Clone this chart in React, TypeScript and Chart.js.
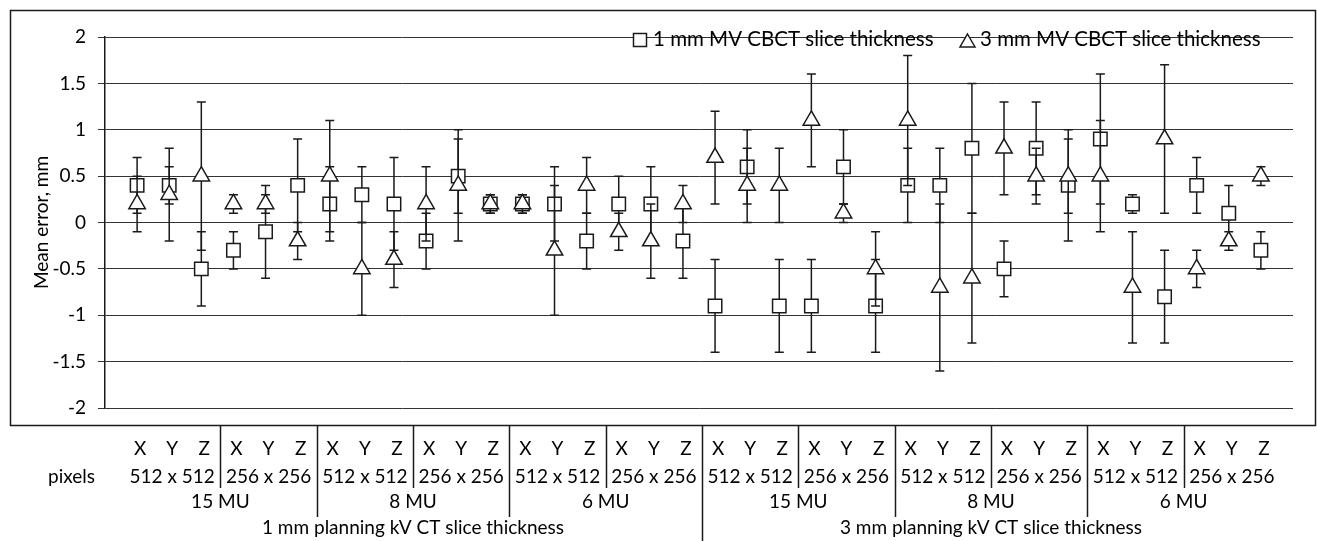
import React, { useEffect, useRef } from 'react';
import { Chart, registerables } from 'chart.js';

Chart.register(...registerables);

// ---- Category hierarchy (innermost first) ----
const AXES = ['X', 'Y', 'Z'];
const PIXEL_GROUPS = ['512 x 512', '256 x 256'];
const MU_GROUPS = ['15 MU', '8 MU', '6 MU'];
const PLANNING_GROUPS = ['1 mm planning kV CT slice thickness', '3 mm planning kV CT slice thickness'];
const PIXEL_ROW_TITLE = 'pixels';

// ---- Series ----
const SERIES_NAMES = ['1 mm MV CBCT slice thickness', '3 mm MV CBCT slice thickness'];
const Y_TITLE = 'Mean error, mm';

// 1 mm MV CBCT (squares): mean and +/- error
const mv1Mean = [
  0.4, 0.4, -0.5, -0.3, -0.1, 0.4,
  0.2, 0.3, 0.2, -0.2, 0.5, 0.2,
  0.2, 0.2, -0.2, 0.2, 0.2, -0.2,
  -0.9, 0.6, -0.9, -0.9, 0.6, -0.9,
  0.4, 0.4, 0.8, -0.5, 0.8, 0.4,
  0.9, 0.2, -0.8, 0.4, 0.1, -0.3,
];
const mv1Err = [
  0.3, 0.2, 0.4, 0.2, 0.5, 0.5,
  0.4, 0.3, 0.5, 0.3, 0.4, 0.1,
  0.1, 0.4, 0.3, 0.3, 0.4, 0.4,
  0.5, 0.4, 0.5, 0.5, 0.4, 0.5,
  0.4, 0.4, 0.7, 0.3, 0.5, 0.6,
  0.7, 0.1, 0.5, 0.3, 0.3, 0.2,
];
// 3 mm MV CBCT (triangles): mean and +/- error
const mv3Mean = [
  0.2, 0.3, 0.5, 0.2, 0.2, -0.2,
  0.5, -0.5, -0.4, 0.2, 0.4, 0.2,
  0.2, -0.3, 0.4, -0.1, -0.2, 0.2,
  0.7, 0.4, 0.4, 1.1, 0.1, -0.5,
  1.1, -0.7, -0.6, 0.8, 0.5, 0.5,
  0.5, -0.7, 0.9, -0.5, -0.2, 0.5,
];
const mv3Err = [
  0.3, 0.5, 0.8, 0.1, 0.1, 0.2,
  0.6, 0.5, 0.3, 0.4, 0.6, 0.1,
  0.1, 0.7, 0.3, 0.2, 0.4, 0.2,
  0.5, 0.4, 0.4, 0.5, 0.1, 0.4,
  0.7, 0.9, 0.7, 0.5, 0.3, 0.4,
  0.6, 0.6, 0.8, 0.2, 0.1, 0.1,
];

const Y_MIN = -2;
const Y_MAX = 2;
const Y_STEP = 0.5;

// Build flat category list from the hierarchy
type Cat = { axis: string; pixel: number; mu: number; plan: number };
const categories: Cat[] = [];
PLANNING_GROUPS.forEach((_, p) => {
  MU_GROUPS.forEach((_, m) => {
    PIXEL_GROUPS.forEach((_, px) => {
      AXES.forEach((a) => categories.push({ axis: a, pixel: px, mu: m, plan: p }));
    });
  });
});

const FONT = 'Lato, "Open Sans", sans-serif';
const INK = '#1a1a1a';

const errorBarPlugin = {
  id: 'errorBars',
  beforeDatasetDraw(chart: any, args: any) {
    const ds = chart.data.datasets[args.index];
    const errs: number[] = ds.errors;
    if (!errs) return;
    const meta = chart.getDatasetMeta(args.index);
    const ys = chart.scales.y;
    const ctx = chart.ctx;
    ctx.save();
    ctx.strokeStyle = INK;
    ctx.lineWidth = 1.5;
    meta.data.forEach((pt: any, i: number) => {
      const v = ds.data[i].y;
      const e = errs[i];
      const x = pt.x;
      const yt = ys.getPixelForValue(v + e);
      const yb = ys.getPixelForValue(v - e);
      ctx.beginPath();
      ctx.moveTo(x, yt);
      ctx.lineTo(x, yb);
      ctx.moveTo(x - 4.5, yt);
      ctx.lineTo(x + 4.5, yt);
      ctx.moveTo(x - 4.5, yb);
      ctx.lineTo(x + 4.5, yb);
      ctx.stroke();
    });
    ctx.restore();
  },
};

const decorPlugin = {
  id: 'decor',
  afterDraw(chart: any) {
    const ctx = chart.ctx;
    const xs = chart.scales.x;
    const area = chart.chartArea;
    ctx.save();
    // outer border
    ctx.strokeStyle = INK;
    ctx.lineWidth = 1.5;
    ctx.strokeRect(10.5, 10.5, 1305, 415);

    // y title
    ctx.fillStyle = '#000';
    ctx.font = `19px ${FONT}`;
    ctx.textAlign = 'center';
    ctx.textBaseline = 'middle';
    ctx.save();
    ctx.translate(42, (area.top + area.bottom) / 2);
    ctx.rotate(-Math.PI / 2);
    ctx.fillText(Y_TITLE, 0, 0);
    ctx.restore();

    // legend
    ctx.lineWidth = 1.5;
    ctx.strokeStyle = INK;
    ctx.fillStyle = '#fff';
    ctx.fillRect(633.5, 33.5, 13, 13);
    ctx.strokeRect(633.5, 33.5, 13, 13);
    ctx.beginPath();
    ctx.moveTo(967.5, 34);
    ctx.lineTo(975, 47);
    ctx.lineTo(960, 47);
    ctx.closePath();
    ctx.fill();
    ctx.stroke();
    ctx.fillStyle = '#000';
    ctx.font = `20.5px ${FONT}`;
    ctx.textAlign = 'left';
    ctx.textBaseline = 'middle';
    ctx.fillText(SERIES_NAMES[0], 653, 39);
    ctx.fillText(SERIES_NAMES[1], 980, 39);

    // category labels
    const dx = 3;
    const px = (i: number) => xs.getPixelForValue(i) + dx;
    const n = categories.length;
    ctx.font = `19px ${FONT}`;
    ctx.textAlign = 'center';
    categories.forEach((c, i) => ctx.fillText(c.axis, px(i), 449));
    const groupCenter = (start: number, len: number) => (px(start) + px(start + len - 1)) / 2;
    const perPixel = AXES.length;
    const perMu = perPixel * PIXEL_GROUPS.length;
    const perPlan = perMu * MU_GROUPS.length;
    for (let s = 0; s < n; s += perPixel) {
      ctx.fillText(PIXEL_GROUPS[categories[s].pixel], groupCenter(s, perPixel), 477);
    }
    for (let s = 0; s < n; s += perMu) {
      ctx.fillText(MU_GROUPS[categories[s].mu], groupCenter(s, perMu), 502);
    }
    for (let s = 0; s < n; s += perPlan) {
      ctx.fillText(PLANNING_GROUPS[categories[s].plan], groupCenter(s, perPlan), 528);
    }
    ctx.textAlign = 'right';
    ctx.fillText(PIXEL_ROW_TITLE, 95, 477);

    // separators
    ctx.strokeStyle = INK;
    ctx.lineWidth = 1.5;
    for (let k = 0; k < n - 1; k++) {
      const b = k + 1;
      let bottom = 0;
      if (b % perPlan === 0) bottom = 541;
      else if (b % perMu === 0) bottom = 517;
      else if (b % perPixel === 0) bottom = 488;
      if (!bottom) continue;
      const x = Math.round((px(k) + px(k + 1)) / 2) + 0.5;
      ctx.beginPath();
      ctx.moveTo(x, 426);
      ctx.lineTo(x, bottom);
      ctx.stroke();
    }
    ctx.restore();
  },
};

export default function App() {
  const ref = useRef<HTMLCanvasElement | null>(null);
  useEffect(() => {
    if (!ref.current) return;
    const chart = new Chart(ref.current, {
      type: 'scatter',
      data: {
        datasets: [
          {
            label: SERIES_NAMES[0],
            data: mv1Mean.map((v, i) => ({ x: i, y: v })),
            errors: mv1Err,
            pointStyle: 'rect',
            pointRadius: 9.5,
            pointBorderWidth: 1.5,
            pointBorderColor: INK,
            pointBackgroundColor: '#fff',
            showLine: false,
            order: 1,
          } as any,
          {
            label: SERIES_NAMES[1],
            data: mv3Mean.map((v, i) => ({ x: i, y: v })),
            errors: mv3Err,
            pointStyle: 'triangle',
            pointRadius: 9.5,
            pointBorderWidth: 1.5,
            pointBorderColor: INK,
            pointBackgroundColor: '#fff',
            showLine: false,
            order: 0,
          } as any,
        ],
      },
      options: {
        responsive: false,
        animation: false,
        events: [],
        layout: { padding: { left: 10, right: 24, top: 37, bottom: 133 } },
        plugins: { legend: { display: false }, tooltip: { enabled: false } },
        scales: {
          x: { type: 'linear', min: -1, max: categories.length, display: false },
          y: {
            min: Y_MIN,
            max: Y_MAX,
            ticks: {
              stepSize: Y_STEP,
              color: '#000',
              font: { family: FONT, size: 19 },
              padding: 12,
              callback: (v: any) => String(Math.round(Number(v) * 10) / 10),
            },
            grid: { color: '#333', lineWidth: 1, tickLength: 7, drawTicks: true },
            border: { color: INK, width: 1.5 },
            afterFit(s: any) {
              s.width = 95;
            },
          },
        },
      },
      plugins: [errorBarPlugin, decorPlugin],
    } as any);
    return () => chart.destroy();
  }, []);
  return (
    <div style={{ position: 'absolute', left: 0, top: 0, width: 1317, height: 541, background: '#fff' }}>
      <canvas ref={ref} width={1317} height={541} style={{ display: 'block' }} />
    </div>
  );
}
